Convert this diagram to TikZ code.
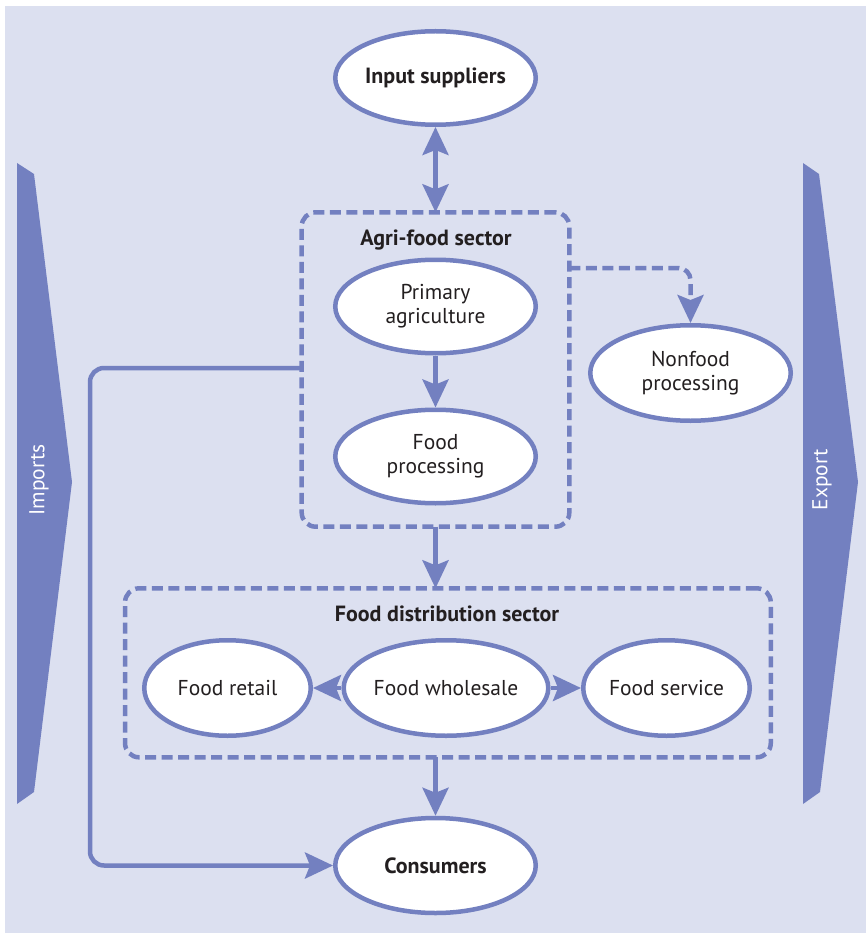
\documentclass[tikz,border=0pt]{standalone}
\usepackage{fontspec}
\setmainfont{PT Sans}
\usetikzlibrary{arrows.meta,shapes.geometric,calc}
\definecolor{bg}{RGB}{220,224,240}
\definecolor{fb}{RGB}{115,128,192}
\definecolor{tx}{RGB}{35,31,32}
\tikzset{
  oval/.style={ellipse,draw=fb,fill=white,line width=4.5pt,inner sep=0pt,align=center,
    text=tx,font=\fontsize{21.5}{24}\selectfont,minimum width=200.5pt,minimum height=93.5pt},
  boldoval/.style={oval,font=\fontsize{22}{24}\selectfont\bfseries},
  sectorbox/.style={draw=fb,line width=4.5pt,dash pattern=on 11pt off 5.5pt,rounded corners=14pt,
    inner sep=0pt,outer sep=0pt},
  tipshape/.tip={Stealth[length=28pt,width=26pt,inset=5pt]},
  conn/.style={draw=fb,line width=4.5pt,-tipshape},
  sidebar/.style={fill=fb,draw=none},
  sidelabel/.style={text=white,rotate=90,font=\fontsize{21.5}{24}\selectfont,inner sep=0pt},
  title/.style={text=tx,font=\fontsize{22}{24}\selectfont\bfseries,inner sep=0pt}
}
\begin{document}
\begin{tikzpicture}[x=1pt,y=-1pt]
\useasboundingbox (0,0) rectangle (866,933);
\fill[white] (0,0) rectangle (866,933);
\fill[bg] (5,6) rectangle (866,933);
% side arrows
\fill[sidebar] (17,163) -- (34,174) -- (72,482) -- (34,792) -- (17,804) -- cycle;
\fill[sidebar] (803,163) -- (819,174) -- (858,482) -- (820,792) -- (803,804) -- cycle;
\node[sidelabel] (imp) at (39,480) {Imports};
\node[sidelabel] (exp) at (822,480) {Export};
% boxes
\node[sectorbox,minimum width=267.6pt,minimum height=314.4pt] (agri) at (435.5,369.5) {};
\node[sectorbox,minimum width=645.7pt,minimum height=169pt] (dist) at (447.9,672.8) {};
\node[title] (agrit) at (436,240) {Agri-food sector};
\node[title] (distt) at (447,614) {Food distribution sector};
% ovals
\node[boldoval] (insup) at (435.5,78) {Input suppliers};
\node[oval] (prim) at (435.5,306.5) {Primary\\agriculture};
\node[oval] (fproc) at (435.5,456.5) {Food\\processing};
\node[oval,minimum height=95.5pt] (nonfood) at (690.5,373) {Nonfood\\processing};
\node[oval,minimum width=166.5pt,minimum height=95.5pt] (retail) at (227.5,688) {Food retail};
\node[oval,minimum width=169.5pt,minimum height=95.5pt] (whole) at (446,688) {Food wholesale};
\node[oval,minimum width=166.5pt,minimum height=95.5pt] (service) at (666.5,688) {Food service};
\node[boldoval,minimum height=95pt] (cons) at (435.5,865.5) {Consumers};
% helper coordinates
\coordinate (nfy) at (0,268);
\coordinate (impa) at (90,368);
\coordinate (impb) at (90,865.5);
% connectors
\draw[conn,tipshape-tipshape] (insup.south) -- (insup.south |- agri.north);
\draw[conn] (prim) -- (fproc);
\draw[conn] (agri.south) -- (agri.south |- dist.north);
\draw[conn] (dist.south -| cons.north) -- (cons.north);
\draw[conn] (whole) -- (retail);
\draw[conn] (whole) -- (service);
\draw[conn,dash pattern=on 11pt off 5.5pt,rounded corners=12pt] (agri.east |- nfy) -| (nonfood.north);
\draw[conn,rounded corners=14pt] (agri.west |- impa) -- (impa) -- (impb) -- (cons.west);
\end{tikzpicture}
\end{document}
